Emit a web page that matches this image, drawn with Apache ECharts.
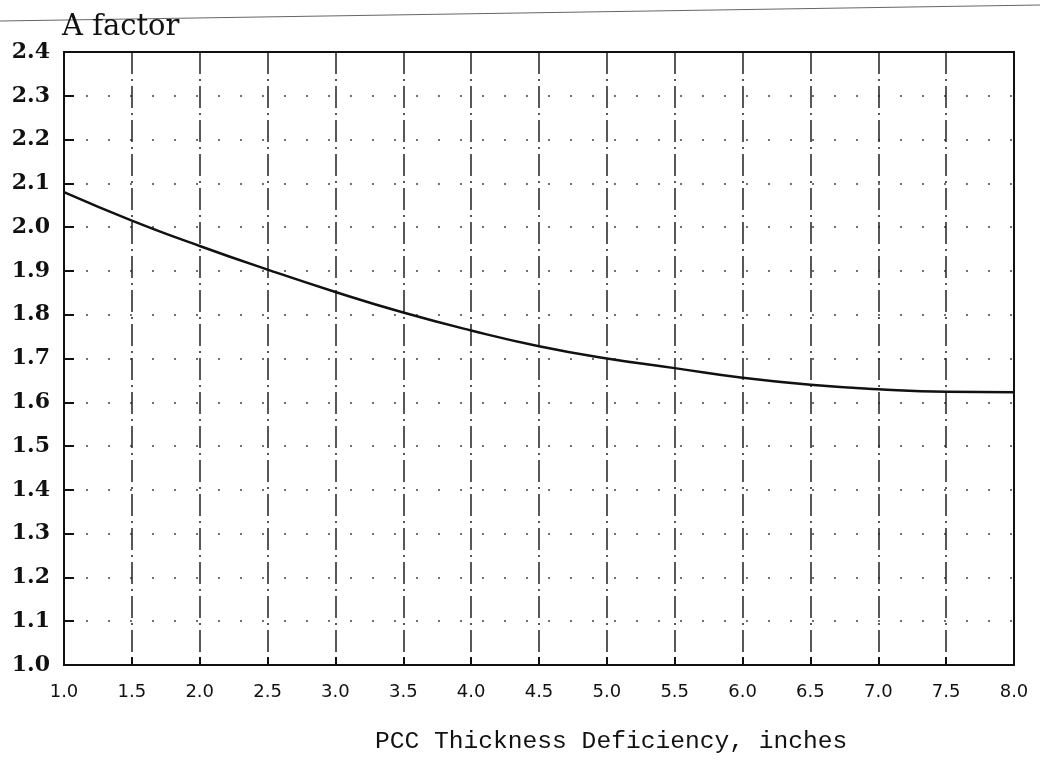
<!DOCTYPE html>
<html>
<head>
<meta charset="utf-8">
<script src="https://cdn.jsdelivr.net/npm/echarts@6/dist/echarts.min.js"></script>
<style>
  html, body { margin: 0; padding: 0; background: #fff; }
  #chart { width: 1040px; height: 767px; }
</style>
</head>
<body>
<div id="chart"></div>
<script>
// thickness deficiency (inches) and the A factor
var thickness = [1.0, 1.5, 2.0, 2.5, 3.0, 3.5, 4.0, 4.5, 5.0, 5.5, 6.0, 6.5, 7.0, 7.5, 8.0];
var aFactor = [2.08, 2.015, 1.957, 1.903, 1.852, 1.805, 1.764, 1.728, 1.70, 1.678, 1.656, 1.64, 1.63, 1.624, 1.623];

var chart = echarts.init(document.getElementById('chart'));

chart.setOption({
  backgroundColor: '#fff',
  animation: false,
  title: [{
    text: 'A factor',
    left: 57,
    top: 8,
    textStyle: { fontFamily: 'DejaVu Serif', fontSize: 29, fontWeight: 'normal', color: '#111' }
  }, {
    text: 'PCC Thickness Deficiency, inches',
    left: 370,
    top: 724,
    textStyle: { fontFamily: 'Liberation Mono', fontSize: 24.6, fontWeight: 'normal', color: '#111' }
  }],
  grid: { left: 64, right: 26, top: 52, bottom: 102 },
  xAxis: {
    type: 'value',
    min: 1,
    max: 8,
    interval: 0.5,
    axisLine: { lineStyle: { color: '#111', width: 2 } },
    axisTick: { inside: true, length: 8, lineStyle: { color: '#111', width: 2 } },
    axisLabel: {
      margin: 18,
      fontFamily: 'DejaVu Sans',
      fontSize: 18,
      color: '#111',
      formatter: function (v) { return v.toFixed(1); }
    },
    splitLine: { show: true, lineStyle: { color: '#222', width: 1.5, type: [22, 5, 2, 5] } }
  },
  yAxis: {
    type: 'value',
    min: 1.0,
    max: 2.4,
    interval: 0.1,
    axisLine: { show: true, lineStyle: { color: '#111', width: 2 } },
    axisTick: { inside: true, length: 10, lineStyle: { color: '#111', width: 2 } },
    axisLabel: {
      margin: 14,
      fontFamily: 'DejaVu Serif',
      fontWeight: 'bold',
      fontSize: 22,
      color: '#111',
      formatter: function (v) { return v.toFixed(1); }
    },
    splitLine: { show: true, lineStyle: { color: '#444', width: 1.5, type: [2, 20] } }
  },
  graphic: [{
    type: 'line',
    shape: { x1: 0, y1: 21, x2: 1040, y2: 5 },
    style: { stroke: '#666', lineWidth: 1 }
  }, {
    type: 'rect',
    shape: { x: 64, y: 52, width: 950, height: 613 },
    style: { fill: 'none', stroke: '#111', lineWidth: 2 },
    z: 10
  }],
  series: [{
    type: 'line',
    data: thickness.map(function (t, i) { return [t, aFactor[i]]; }),
    smooth: true,
    showSymbol: false,
    lineStyle: { color: '#111', width: 2.5 }
  }]
});
</script>
</body>
</html>
